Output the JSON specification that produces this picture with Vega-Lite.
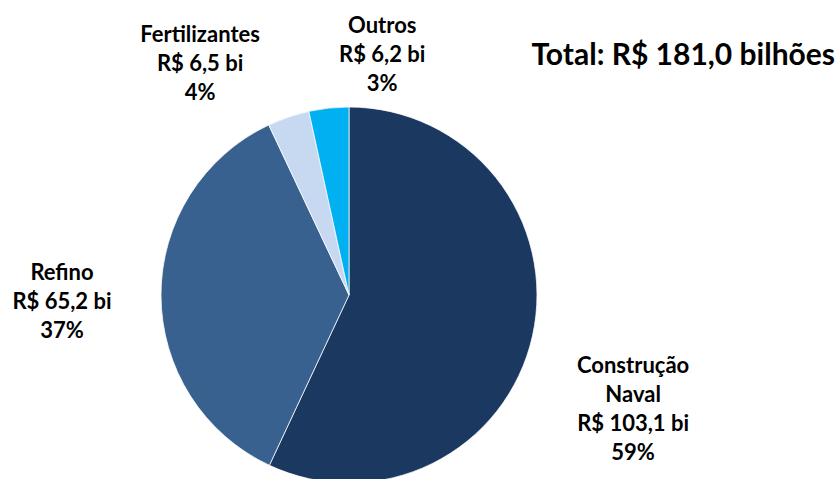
{
  "$schema": "https://vega.github.io/schema/vega-lite/v6.json",
  "width": 698,
  "height": 368,
  "autosize": {"type": "none"},
  "padding": {"left": 0, "top": 111, "right": 140, "bottom": 0},
  "background": "white",
  "config": {"view": {"stroke": null}, "font": "Lato"},
  "title": {
    "text": "Total: R$ 181,0 bilhões",
    "anchor": "end",
    "frame": "group",
    "dx": 137,
    "offset": -94,
    "font": "Lato",
    "fontSize": 30,
    "fontWeight": "bold",
    "color": "#000000"
  },
  "data": {
    "values": [
      {"setor": "Construção Naval", "valor": 103.1, "ordem": 1, "rotulo": "Construção\nNaval\nR$ 103,1 bi\n59%"},
      {"setor": "Refino", "valor": 65.2, "ordem": 2, "rotulo": "Refino\nR$ 65,2 bi\n37%"},
      {"setor": "Fertilizantes", "valor": 6.5, "ordem": 3, "rotulo": "Fertilizantes\nR$ 6,5 bi\n4%"},
      {"setor": "Outros", "valor": 6.2, "ordem": 4, "rotulo": "Outros\nR$ 6,2 bi\n3%"}
    ]
  },
  "encoding": {
    "theta": {"field": "valor", "type": "quantitative", "stack": true},
    "order": {"field": "ordem", "type": "quantitative"}
  },
  "layer": [
    {
      "mark": {"type": "arc", "radius": 188, "stroke": "#ffffff", "strokeWidth": 0.75},
      "encoding": {
        "color": {
          "field": "setor",
          "type": "nominal",
          "scale": {
            "domain": ["Construção Naval", "Refino", "Fertilizantes", "Outros"],
            "range": ["#1B3861", "#386190", "#C6D9F1", "#00B0F0"]
          },
          "legend": null
        }
      }
    },
    {
      "mark": {"type": "text", "radius": 290, "dx": 1, "dy": 8, "lineBreak": "\n", "lineHeight": 29, "fontSize": 22, "fontWeight": "bold", "font": "Lato", "align": "center", "baseline": "middle", "color": "#000000"},
      "encoding": {"text": {"condition": {"test": "datum.setor === 'Construção Naval'", "field": "rotulo", "type": "nominal"}, "value": ""}}
    },
    {
      "mark": {"type": "text", "radius": 287, "dx": 0, "dy": -22, "lineBreak": "\n", "lineHeight": 29, "fontSize": 22, "fontWeight": "bold", "font": "Lato", "align": "center", "baseline": "middle", "color": "#000000"},
      "encoding": {"text": {"condition": {"test": "datum.setor === 'Refino'", "field": "rotulo", "type": "nominal"}, "value": ""}}
    },
    {
      "mark": {"type": "text", "radius": 245, "dx": -70, "dy": -28, "lineBreak": "\n", "lineHeight": 29, "fontSize": 22, "fontWeight": "bold", "font": "Lato", "align": "center", "baseline": "middle", "color": "#000000"},
      "encoding": {"text": {"condition": {"test": "datum.setor === 'Fertilizantes'", "field": "rotulo", "type": "nominal"}, "value": ""}}
    },
    {
      "mark": {"type": "text", "radius": 240, "dx": 59, "dy": -30, "lineBreak": "\n", "lineHeight": 29, "fontSize": 22, "fontWeight": "bold", "font": "Lato", "align": "center", "baseline": "middle", "color": "#000000"},
      "encoding": {"text": {"condition": {"test": "datum.setor === 'Outros'", "field": "rotulo", "type": "nominal"}, "value": ""}}
    }
  ]
}
